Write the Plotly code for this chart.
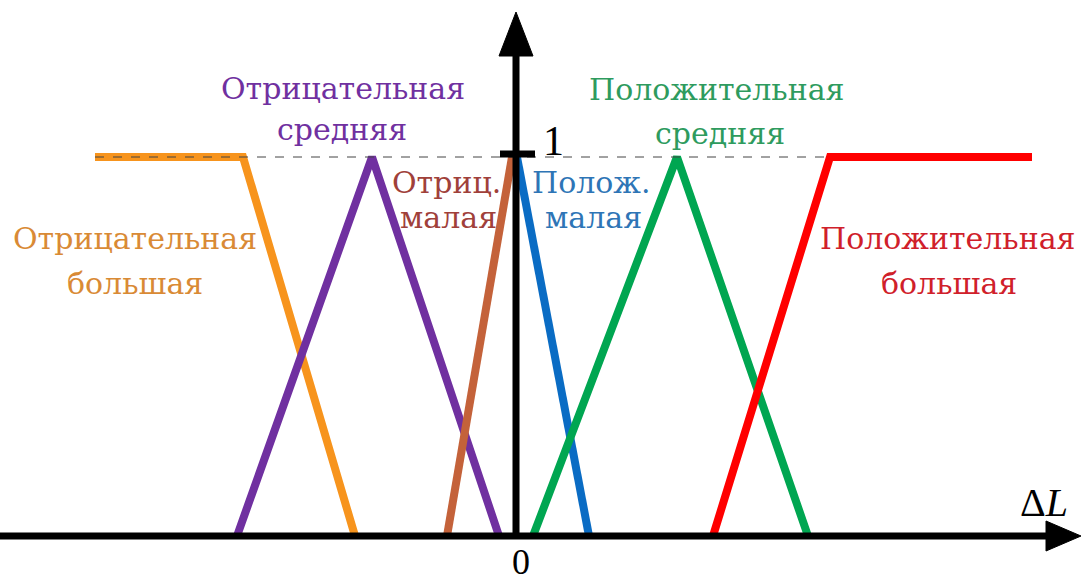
import plotly.graph_objects as go

# Membership functions of the length deviation ΔL (membership degree 0..1)
neg_big_x = [-4.21, -2.73, -1.61]
neg_big_y = [1, 1, 0]
neg_mid_x = [-2.79, -1.44, -0.17]
neg_mid_y = [0, 1, 0]
neg_small_x = [-0.69, -0.04]
neg_small_y = [0, 1]
pos_small_x = [0.01, 0.73]
pos_small_y = [1, 0]
pos_mid_x = [0.17, 1.61, 2.92]
pos_mid_y = [0, 1, 0]
pos_big_x = [1.97, 3.14, 5.16]
pos_big_y = [0, 1, 1]

W, H = 1082, 583
X0_PX, Y0_PX = 516, 536      # pixel position of the origin
PX_PER_X, PX_PER_Y = 100, 379

def dx(px):
    return (px - X0_PX) / PX_PER_X

def dy(py):
    return (Y0_PX - py) / PX_PER_Y

fig = go.Figure()

series = [
    (neg_big_x, neg_big_y, "#F7941D"),
    (neg_mid_x, neg_mid_y, "#7030A0"),
    (neg_small_x, neg_small_y, "#C4623A"),
    (pos_small_x, pos_small_y, "#0A6CC4"),
    (pos_mid_x, pos_mid_y, "#00A651"),
    (pos_big_x, pos_big_y, "#FF0000"),
]
for xs, ys, col in series:
    fig.add_trace(go.Scatter(x=xs, y=ys, mode="lines",
                             line=dict(color=col, width=8),
                             hoverinfo="skip", showlegend=False))

shapes = []
# dashed level of full membership
shapes.append(dict(type="line", xref="x", yref="y",
                   x0=neg_big_x[0], x1=pos_big_x[1], y0=1, y1=1,
                   line=dict(color="#444444", width=1, dash="dash"), layer="above"))
# horizontal axis with arrow
shapes.append(dict(type="line", xref="x", yref="y", x0=dx(0), x1=dx(1050), y0=0, y1=0,
                   line=dict(color="black", width=7)))
shapes.append(dict(type="path", xref="x", yref="y",
                   path=f"M {dx(1046)} {dy(521)} L {dx(1081)} {dy(536)} L {dx(1046)} {dy(551)} Z",
                   fillcolor="black", line=dict(color="black", width=1)))
# vertical axis with arrow
shapes.append(dict(type="line", xref="x", yref="y", x0=0, x1=0, y0=0, y1=dy(50),
                   line=dict(color="black", width=7)))
shapes.append(dict(type="path", xref="x", yref="y",
                   path=f"M {dx(499)} {dy(56)} L {dx(516)} {dy(12)} L {dx(533)} {dy(56)} Z",
                   fillcolor="black", line=dict(color="black", width=1)))
# tick at membership 1
shapes.append(dict(type="line", xref="x", yref="y", x0=dx(500), x1=dx(535), y0=dy(154), y1=dy(154),
                   line=dict(color="black", width=7)))
fig.update_layout(shapes=shapes)

SERIF = "Liberation Serif, serif"
CYR = "DejaVu Serif"

labels = [
    ("Отрицательная", 343, 88, "#7030A0"),
    ("средняя", 342, 129, "#7030A0"),
    ("Положительная", 716, 89, "#2E9B5E"),
    ("средняя", 720, 133, "#2E9B5E"),
    ("Отрицательная", 135, 238, "#D98A35"),
    ("большая", 135, 283, "#D98A35"),
    ("Положительная", 947, 238, "#D0202A"),
    ("большая", 949, 283, "#D0202A"),
    ("Отриц.", 446, 182, "#A0403A"),
    ("малая", 448, 217, "#A0403A"),
    ("Полож.", 591, 182, "#2E75B6"),
    ("малая", 593, 217, "#2E75B6"),
]
ann = []
for text, px, py, col in labels:
    ann.append(dict(text=text, x=dx(px), y=dy(py), xref="x", yref="y",
                    xanchor="center", yanchor="middle", showarrow=False,
                    font=dict(family=CYR, size=30, color=col)))
ann.append(dict(text="1", x=dx(553), y=dy(141), xref="x", yref="y", showarrow=False,
                font=dict(family=SERIF, size=42, color="black")))
ann.append(dict(text="0", x=dx(521), y=dy(562), xref="x", yref="y", showarrow=False,
                font=dict(family=SERIF, size=36, color="black")))
ann.append(dict(text="Δ<i>L</i>", x=dx(1044), y=dy(502), xref="x", yref="y", showarrow=False,
                font=dict(family=SERIF, size=40, color="black")))
fig.update_layout(annotations=ann)

fig.update_layout(
    width=W, height=H, margin=dict(l=0, r=0, t=0, b=0),
    paper_bgcolor="white", plot_bgcolor="white",
    font=dict(family=SERIF),
    xaxis=dict(range=[dx(0), dx(W)], visible=False, fixedrange=True),
    yaxis=dict(range=[dy(H), dy(0)], visible=False, fixedrange=True),
)

fig.write_html("out.html")
